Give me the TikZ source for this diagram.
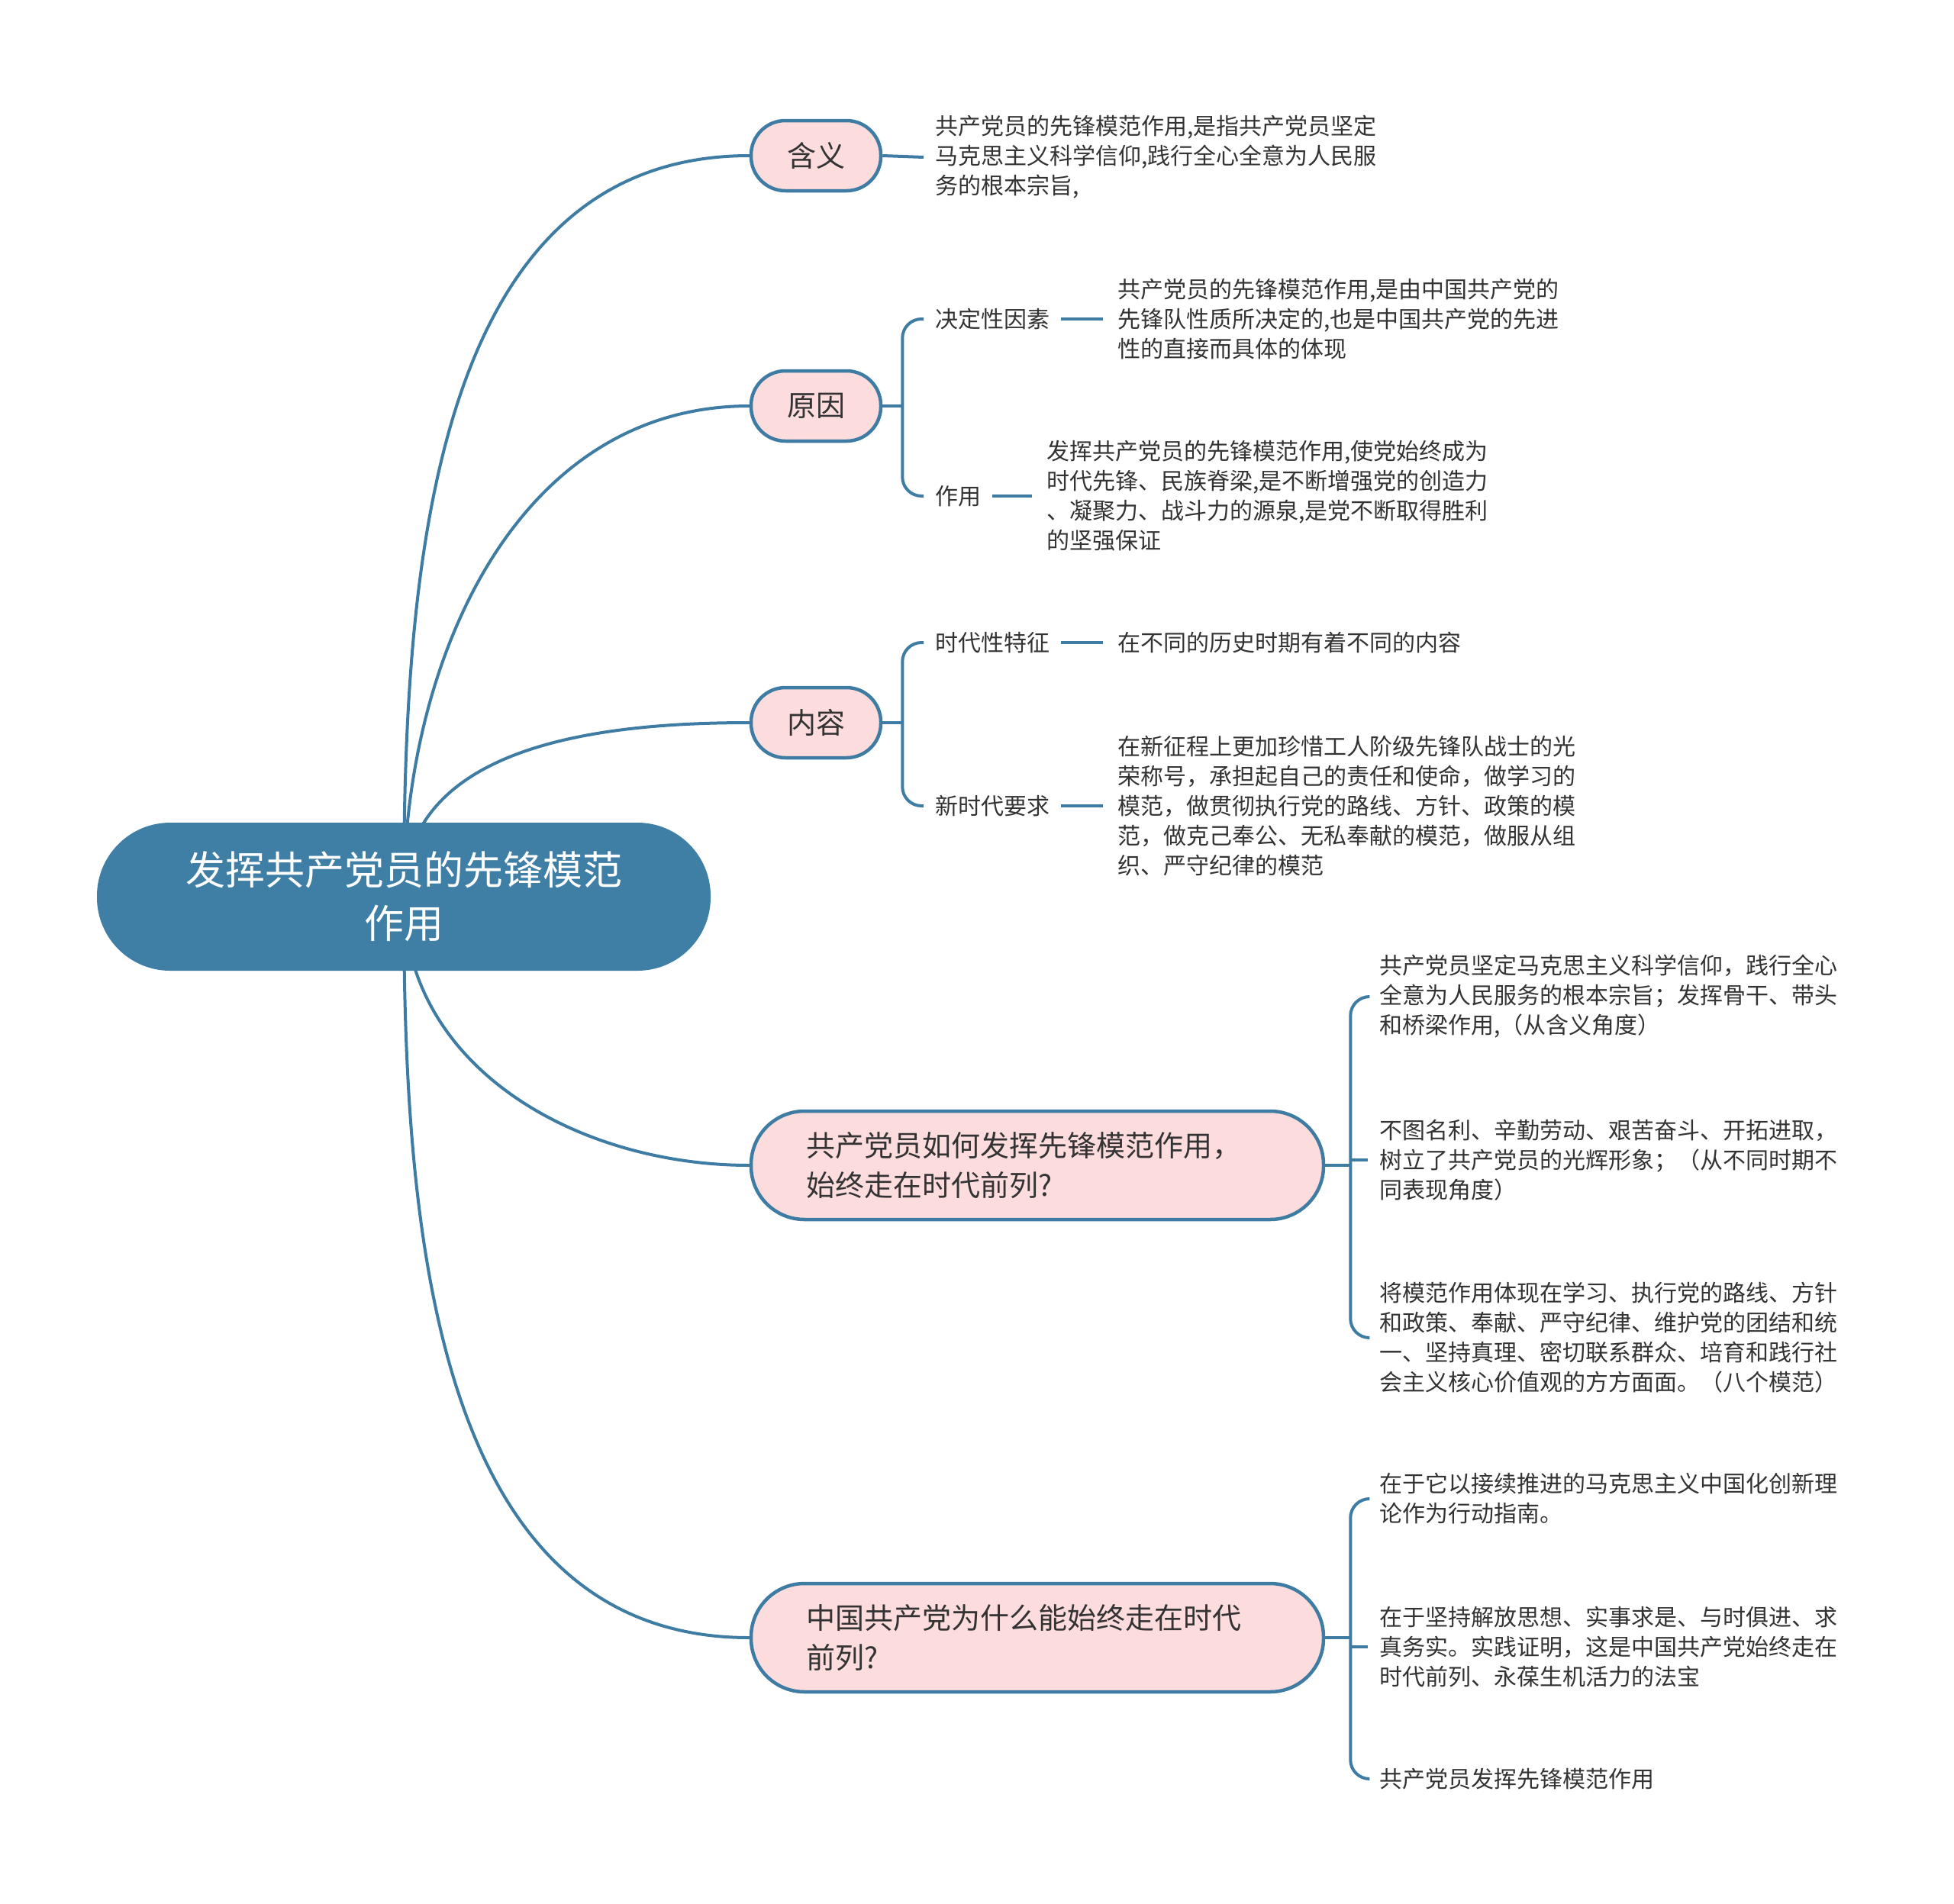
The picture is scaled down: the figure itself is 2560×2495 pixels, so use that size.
\documentclass[tikz,border=0pt]{standalone}
\usepackage{fontspec}
\setmainfont{Noto Sans CJK SC}
\usetikzlibrary{positioning}
\definecolor{rootblue}{HTML}{3F7FA6}
\definecolor{lineblue}{HTML}{3F7CA3}
\definecolor{topicpink}{HTML}{FCDCDC}
\definecolor{textgray}{HTML}{333333}
\tikzstyle{rootbox} = [rectangle, rounded corners=96pt, minimum width=804pt, minimum height=194pt, inner sep=0pt, fill=rootblue, text=white, align=center, font=\fontsize{52}{70}\selectfont]
\tikzstyle{topic} = [rectangle, rounded corners=45pt, minimum width=170pt, minimum height=92pt, inner sep=0pt, draw=lineblue, line width=4.5pt, fill=topicpink, text=textgray, font=\fontsize{38}{52}\selectfont]
\tikzstyle{question} = [topic, rounded corners=70pt, minimum height=142pt, text width=606pt, inner xsep=72pt, align=left]
\tikzstyle{subtopic} = [inner xsep=15pt, inner ysep=4pt, anchor=west, text=textgray, font=\fontsize{30}{39}\selectfont]
\tikzstyle{detail} = [subtopic, align=left]
\tikzstyle{link} = [draw=lineblue, line width=4pt]
\tikzstyle{brace} = [link, rounded corners=25pt]
\begin{document}
\begin{tikzpicture}[x=1pt, y=-1pt]
  \useasboundingbox (0,0) rectangle (2560,2495);
  \coordinate (rc) at (529,1175);
  \node (hanyi)[topic] at (1069,204) {含义};
  \node (yuanyin)[topic] at (1069,532) {原因};
  \node (neirong)[topic] at (1069,947) {内容};
  \node (ruhe)[question] at (1359,1527) {共产党员如何发挥先锋模范作用，\\始终走在时代前列?};
  \node (weishenme)[question] at (1359,2146) {中国共产党为什么能始终走在时代\\前列?};
  % 含义
  \node (hanyi1)[detail] at (1210,206) {共产党员的先锋模范作用,是指共产党员坚定\\马克思主义科学信仰,践行全心全意为人民服\\务的根本宗旨,};
  % 原因
  \node (jueding)[subtopic] at (1210,418) {决定性因素};
  \node (jueding1)[detail, right=59pt of jueding] {共产党员的先锋模范作用,是由中国共产党的\\先锋队性质所决定的,也是中国共产党的先进\\性的直接而具体的体现};
  \node (zuoyong)[subtopic] at (1210,650) {作用};
  \node (zuoyong1)[detail, right=56pt of zuoyong] {发挥共产党员的先锋模范作用,使党始终成为\\时代先锋、民族脊梁,是不断增强党的创造力\\、凝聚力、战斗力的源泉,是党不断取得胜利\\的坚强保证};
  % 内容
  \node (shidai)[subtopic] at (1210,842) {时代性特征};
  \node (shidai1)[detail, right=59pt of shidai] {在不同的历史时期有着不同的内容};
  \node (xinshidai)[subtopic] at (1210,1056) {新时代要求};
  \node (xinshidai1)[detail, right=59pt of xinshidai] {在新征程上更加珍惜工人阶级先锋队战士的光\\荣称号，承担起自己的责任和使命，做学习的\\模范，做贯彻执行党的路线、方针、政策的模\\范，做克己奉公、无私奉献的模范，做服从组\\织、严守纪律的模范};
  % 如何发挥
  \node (ruhe1)[detail] at (1792,1306) {共产党员坚定马克思主义科学信仰，践行全心\\全意为人民服务的根本宗旨；发挥骨干、带头\\和桥梁作用,（从含义角度）};
  \node (ruhe2)[detail] at (1792,1520) {不图名利、辛勤劳动、艰苦奋斗、开拓进取，\\树立了共产党员的光辉形象；（从不同时期不\\同表现角度）};
  \node (ruhe3)[detail] at (1792,1753) {将模范作用体现在学习、执行党的路线、方针\\和政策、奉献、严守纪律、维护党的团结和统\\一、坚持真理、密切联系群众、培育和践行社\\会主义核心价值观的方方面面。（八个模范）};
  % 为什么
  \node (wei1)[detail] at (1792,1964) {在于它以接续推进的马克思主义中国化创新理\\论作为行动指南。};
  \node (wei2)[detail] at (1792,2158) {在于坚持解放思想、实事求是、与时俱进、求\\真务实。实践证明，这是中国共产党始终走在\\时代前列、永葆生机活力的法宝};
  \node (wei3)[detail] at (1792,2331) {共产党员发挥先锋模范作用};

  \draw[link] (rc) to[out=90,in=180] (hanyi.west);
  \draw[link] (rc) to[out=90,in=180] (yuanyin.west);
  \draw[link] (rc) to[out=90,in=180] (neirong.west);
  \draw[link] (rc) to[out=-90,in=180] (ruhe.west);
  \draw[link] (rc) to[out=-90,in=180] (weishenme.west);
  \node (root)[rootbox] at (rc) {发挥共产党员的先锋模范\\作用};

  \draw[link] (hanyi.east) -- (hanyi1.west);
  \coordinate (yj) at ([xshift=26pt]yuanyin.east);
  \draw[link] (yuanyin.east) -- (yj);
  \draw[brace] (yj) |- (jueding.west);
  \draw[brace] (yj) |- (zuoyong.west);
  \coordinate (nj) at ([xshift=26pt]neirong.east);
  \draw[link] (neirong.east) -- (nj);
  \draw[brace] (nj) |- (shidai.west);
  \draw[brace] (nj) |- (xinshidai.west);
  \coordinate (rj) at ([xshift=33pt]ruhe.east);
  \draw[link] (ruhe.east) -- (rj);
  \draw[brace] (rj) |- (ruhe1.west);
  \draw[link] (rj |- ruhe2.west) -- (ruhe2.west);
  \draw[brace] (rj) |- (ruhe3.west);
  \coordinate (wj) at ([xshift=33pt]weishenme.east);
  \draw[link] (weishenme.east) -- (wj);
  \draw[brace] (wj) |- (wei1.west);
  \draw[link] (wj |- wei2.west) -- (wei2.west);
  \draw[brace] (wj) |- (wei3.west);

  \draw[link] (jueding.east) -- ([xshift=-4pt]jueding1.west);
  \draw[link] (zuoyong.east) -- ([xshift=-4pt]zuoyong1.west);
  \draw[link] (shidai.east) -- ([xshift=-4pt]shidai1.west);
  \draw[link] (xinshidai.east) -- ([xshift=-4pt]xinshidai1.west);
\end{tikzpicture}
\end{document}
